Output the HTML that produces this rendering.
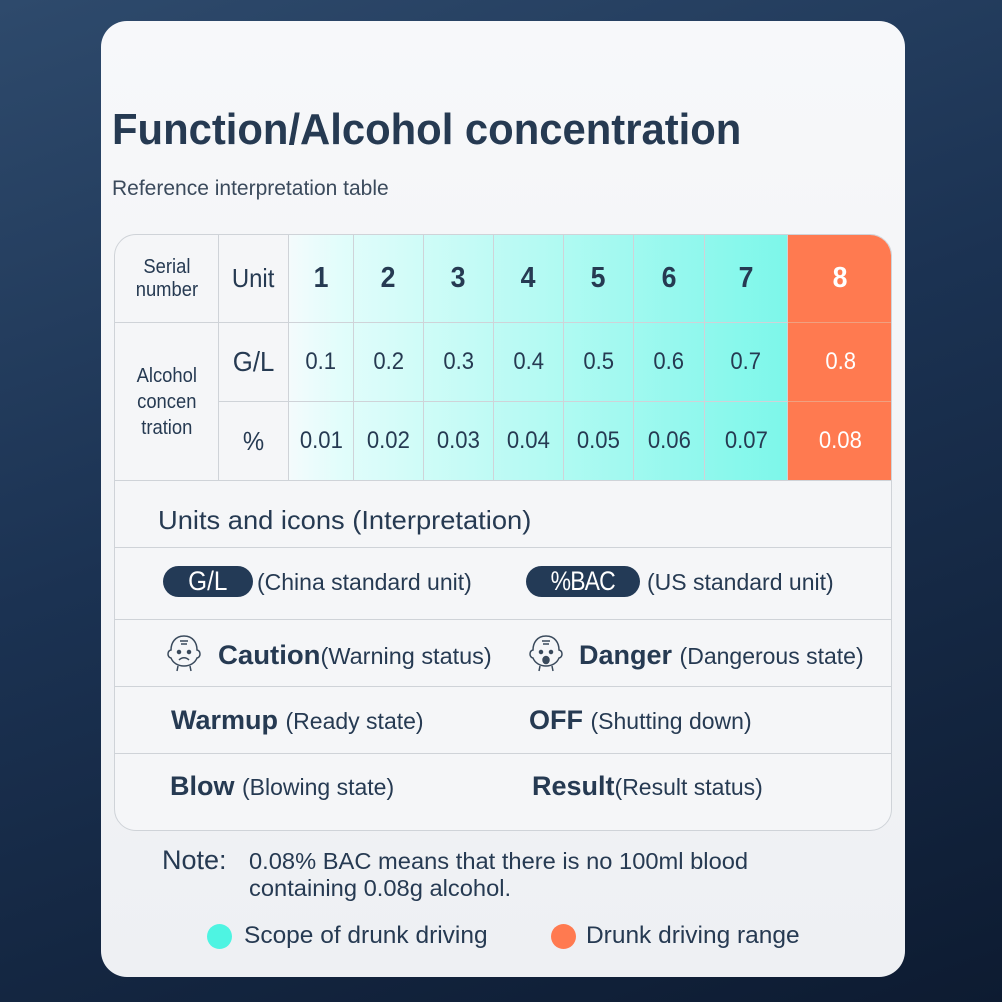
<!DOCTYPE html>
<html><head><meta charset="utf-8"><style>
*{margin:0;padding:0;box-sizing:border-box}
body{width:1002px;height:1002px;overflow:hidden;background:linear-gradient(160deg,#2e4a6c 0%,#1b3252 45%,#0d1b31 100%);font-family:"Liberation Sans",sans-serif;color:#263a52;position:relative}
.card{position:absolute;left:101px;top:21px;width:804px;height:956px;border-radius:26px;background:linear-gradient(180deg,#f7f8fa,#eef0f3);}
.t{position:absolute;white-space:nowrap;line-height:1;transform-origin:left center}
.tbl{position:absolute;left:114px;top:234px;width:778px;height:597px;border:1.5px solid #cfd3d8;border-radius:22px;overflow:hidden;background:#f5f6f8}
.c{position:absolute;display:flex;align-items:center;justify-content:center;border-right:1.5px solid #cfd3d8;border-bottom:1.5px solid #cfd3d8;text-align:center}
.c span{display:inline-block;transform:scaleX(.92)}
.h{position:absolute;left:0;width:778px;border-bottom:1.5px solid #cfd3d8}
.pill{position:absolute;background:#233a56;color:#fff;border-radius:16px;display:flex;align-items:center;justify-content:center;font-size:27px}
.dot{position:absolute;width:25px;height:25px;border-radius:50%}
.v{font-size:24px}
</style></head><body>
<div class="card"></div>
<div class="t" style="left:112px;top:108px;font-size:44px;font-weight:bold;transform:scaleX(.95)">Function/Alcohol concentration</div>
<div class="t" style="left:112px;top:178px;font-size:21px;color:#3b4a5c">Reference interpretation table</div>

<div class="tbl">
 <div style="position:absolute;left:174px;top:0;width:498px;height:246px;background:linear-gradient(90deg,#f4fbfc 0%,#e2fdfb 10%,#b5faf3 50%,#7df7ea 100%)"></div>
 <div style="position:absolute;left:673px;top:0;width:105px;height:246px;background:#ff7a50"></div>
 <div class="c" style="left:0;top:0;width:104px;height:88px;font-size:20px;line-height:23px"><span>Serial<br>number</span></div>
 <div class="c" style="left:104px;top:0;width:70px;height:88px;font-size:26px"><span>Unit</span></div>
 <div class="c" style="left:174px;top:0;width:65px;height:88px;font-size:29px;font-weight:bold"><span>1</span></div>
 <div class="c" style="left:239px;top:0;width:70px;height:88px;font-size:29px;font-weight:bold"><span>2</span></div>
 <div class="c" style="left:309px;top:0;width:70px;height:88px;font-size:29px;font-weight:bold"><span>3</span></div>
 <div class="c" style="left:379px;top:0;width:70px;height:88px;font-size:29px;font-weight:bold"><span>4</span></div>
 <div class="c" style="left:449px;top:0;width:70px;height:88px;font-size:29px;font-weight:bold"><span>5</span></div>
 <div class="c" style="left:519px;top:0;width:71px;height:88px;font-size:29px;font-weight:bold"><span>6</span></div>
 <div class="c" style="left:590px;top:0;width:83px;height:88px;font-size:29px;font-weight:bold"><span>7</span></div>
 <div class="c" style="left:673px;top:0;width:105px;height:88px;font-size:29px;font-weight:bold;color:#fff;border-right:none;border-bottom-color:#f0a080"><span>8</span></div>
 <div class="c" style="left:0;top:88px;width:104px;height:158px;font-size:20px;line-height:26px"><span>Alcohol<br>concen<br>tration</span></div>
 <div class="c" style="left:104px;top:88px;width:70px;height:79px;font-size:28px"><span>G/L</span></div>
 <div class="c v" style="left:174px;top:88px;width:65px;height:79px"><span>0.1</span></div>
 <div class="c v" style="left:239px;top:88px;width:70px;height:79px"><span>0.2</span></div>
 <div class="c v" style="left:309px;top:88px;width:70px;height:79px"><span>0.3</span></div>
 <div class="c v" style="left:379px;top:88px;width:70px;height:79px"><span>0.4</span></div>
 <div class="c v" style="left:449px;top:88px;width:70px;height:79px"><span>0.5</span></div>
 <div class="c v" style="left:519px;top:88px;width:71px;height:79px"><span>0.6</span></div>
 <div class="c v" style="left:590px;top:88px;width:83px;height:79px"><span>0.7</span></div>
 <div class="c v" style="left:673px;top:88px;width:105px;height:79px;color:#fff;border-right:none;border-bottom-color:#f0a080"><span>0.8</span></div>
 <div class="c" style="left:104px;top:167px;width:70px;height:79px;font-size:26px"><span>%</span></div>
 <div class="c v" style="left:174px;top:167px;width:65px;height:79px"><span>0.01</span></div>
 <div class="c v" style="left:239px;top:167px;width:70px;height:79px"><span>0.02</span></div>
 <div class="c v" style="left:309px;top:167px;width:70px;height:79px"><span>0.03</span></div>
 <div class="c v" style="left:379px;top:167px;width:70px;height:79px"><span>0.04</span></div>
 <div class="c v" style="left:449px;top:167px;width:70px;height:79px"><span>0.05</span></div>
 <div class="c v" style="left:519px;top:167px;width:71px;height:79px"><span>0.06</span></div>
 <div class="c v" style="left:590px;top:167px;width:83px;height:79px"><span>0.07</span></div>
 <div class="c v" style="left:673px;top:167px;width:105px;height:79px;color:#fff;border-right:none"><span>0.08</span></div>
 <div class="h" style="top:246px;height:67px"></div>
 <div class="h" style="top:313px;height:72px"></div>
 <div class="h" style="top:385px;height:67px"></div>
 <div class="h" style="top:452px;height:67px"></div>
</div>

<div class="t" style="left:158px;top:507px;font-size:26px;transform:scaleX(1.05)">Units and icons (Interpretation)</div>
<div class="pill" style="left:163px;top:566px;width:90px;height:31px"><span style="transform:scaleX(.9)">G/L</span></div>
<div class="t" style="left:257px;top:571px;font-size:23px">(China standard unit)</div>
<div class="pill" style="left:526px;top:566px;width:114px;height:31px"><span style="transform:scaleX(.85);letter-spacing:-1px">%BAC</span></div>
<div class="t" style="left:647px;top:571px;font-size:23px">(US standard unit)</div>

<svg style="position:absolute;left:163px;top:632px" width="42" height="42" viewBox="0 0 42 42" fill="none" stroke="#3a4a5c" stroke-width="1.5">
<path d="M21 4c-9 0-13 7-13 14-4 1-4 7 0 8 2 5 7 8 13 8s11-3 13-8c4-1 4-7 0-8 0-7-4-14-13-14z"/><path d="M17 9h8M18 12h6"/><circle cx="16" cy="20" r="1.5" fill="#3a4a5c"/><circle cx="26" cy="20" r="1.5" fill="#3a4a5c"/><path d="M16 28c3-3 7-3 10 0M15 34l-1 5M27 34l1 5"/></svg>
<div class="t" style="left:218px;top:642px;font-size:27px;transform:scaleX(1.02)"><b style="font-weight:600">Caution</b><span style="font-size:23px">(Warning status)</span></div>
<svg style="position:absolute;left:525px;top:632px" width="42" height="42" viewBox="0 0 42 42" fill="none" stroke="#3a4a5c" stroke-width="1.5">
<path d="M21 4c-9 0-13 7-13 14-4 1-4 7 0 8 2 5 7 8 13 8s11-3 13-8c4-1 4-7 0-8 0-7-4-14-13-14z"/><path d="M17 9h8M18 12h6"/><circle cx="16" cy="20" r="1.5" fill="#3a4a5c"/><circle cx="26" cy="20" r="1.5" fill="#3a4a5c"/><ellipse cx="21" cy="28" rx="3" ry="3.5" fill="#3a4a5c"/><path d="M15 34l-1 5M27 34l1 5"/></svg>
<div class="t" style="left:579px;top:642px;font-size:27px"><b style="font-weight:600">Danger</b> <span style="font-size:23px">(Dangerous state)</span></div>

<div class="t" style="left:171px;top:707px;font-size:27px"><b style="font-weight:600">Warmup</b> <span style="font-size:23px">(Ready state)</span></div>
<div class="t" style="left:529px;top:707px;font-size:27px"><b style="font-weight:600">OFF</b> <span style="font-size:23px">(Shutting down)</span></div>
<div class="t" style="left:170px;top:773px;font-size:27px"><b style="font-weight:600">Blow</b> <span style="font-size:23px">(Blowing state)</span></div>
<div class="t" style="left:532px;top:773px;font-size:27px"><b style="font-weight:600">Result</b><span style="font-size:23px">(Result status)</span></div>

<div class="t" style="left:162px;top:847px;font-size:27px">Note:</div>
<div class="t" style="left:249px;top:850px;font-size:23px;transform:scaleX(1.03)">0.08% BAC means that there is no 100ml blood</div>
<div class="t" style="left:249px;top:877px;font-size:23px;transform:scaleX(1.03)">containing 0.08g alcohol.</div>
<div class="dot" style="left:207px;top:924px;background:#4ef4e2"></div>
<div class="t" style="left:244px;top:924px;font-size:24px;transform:scaleX(1.02)">Scope of drunk driving</div>
<div class="dot" style="left:551px;top:924px;background:#ff7a50"></div>
<div class="t" style="left:586px;top:924px;font-size:24px;transform:scaleX(1.02)">Drunk driving range</div>
</body></html>
